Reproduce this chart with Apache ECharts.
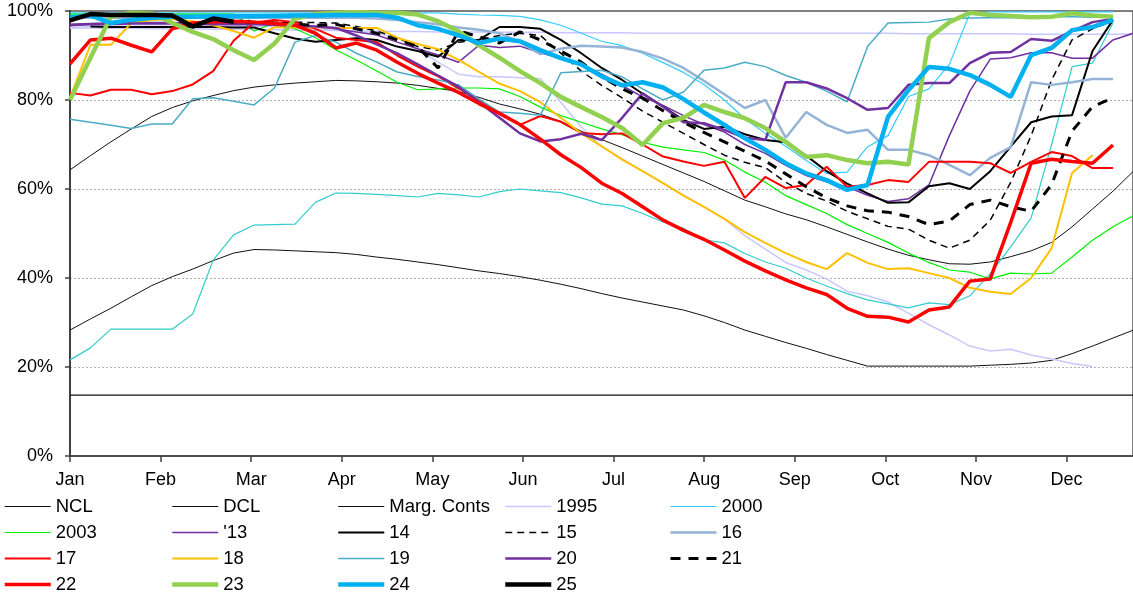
<!DOCTYPE html>
<html><head><meta charset="utf-8">
<script src="https://cdn.jsdelivr.net/npm/echarts@6/dist/echarts.min.js"></script>
<style>html,body{margin:0;padding:0;background:#fff}#c{width:1133px;height:592px}</style>
</head><body><div id="c"></div>
<script>
// ---- data (weekly points, week index 0 = 1 Jan) ----
const MONTHS = ['Jan','Feb','Mar','Apr','May','Jun','Jul','Aug','Sep','Oct','Nov','Dec'];
const WEEKS_PER_MONTH = 4.43;
const Y_TICKS = [0, 20, 40, 60, 80, 100];

const NCL = [64.3,67.5,70.6,73.5,76.3,78.3,79.8,81,82.1,82.9,83.4,83.8,84.1,84.4,84.3,84.1,83.8,83.3,82.6,81.9,80.6,79.1,78,76.8,75.2,73,71.1,69.3,67.4,65.5,63.6,61.7,59.6,57.5,56,54.4,53.1,51.5,49.8,48.1,46.5,45.1,44.1,43.2,43.1,43.6,44.8,46.1,48,51.5,55.5,59.5,64];
const DCL = [28.3,30.8,33.2,35.8,38.3,40.3,42,43.9,45.6,46.4,46.3,46.1,45.9,45.7,45.3,44.7,44.2,43.6,43,42.3,41.6,41,40.3,39.5,38.6,37.6,36.5,35.5,34.6,33.7,32.8,31.5,30,28.3,26.9,25.5,24.2,22.8,21.5,20.2,20.2,20.2,20.2,20.2,20.2,20.4,20.6,20.9,21.5,23,24.7,26.5,28.3];
const MARG = [13.7,13.7,13.7,13.7,13.7,13.7,13.7,13.7,13.7,13.7,13.7,13.7,13.7,13.7,13.7,13.7,13.7,13.7,13.7,13.7,13.7,13.7,13.7,13.7,13.7,13.7,13.7,13.7,13.7,13.7,13.7,13.7,13.7,13.7,13.7,13.7,13.7,13.7,13.7,13.7,13.7,13.7,13.7,13.7,13.7,13.7,13.7,13.7,13.7,13.7,13.7,13.7,13.7];
const LAV_FLAT = [96.2,96.2,96.1,96.1,96,96,96,95.9,95.9,95.8,95.8,95.7,95.7,95.6,95.5,95.5,95.4,95.4,95.3,95.3,95.3,95.2,95.2,95.2,95.1,95.1,95.1,95.1,95,95,95,95,95,95,95,95,95,95,95,95,95,94.9,94.9,94.9,94.9,94.9,94.9,94.8,94.8,94.8,94.8,94.8,94.8];
const Y1995 = [96.2,96.5,96.6,96.6,96.6,96.6,96.6,96.5,96.5,96.5,96.5,96.3,96,95.7,95.4,95,94,91.5,88.5,85.8,85.2,85.2,85,84.8,79.5,74,69.5,66.8,64,61.3,58.6,56,53.3,49.5,46.5,43.5,41.8,39.8,37,36,34.6,32.1,29.5,27.2,24.7,23.6,24,22.7,21.8,20.8,20.1,null,null];
const Y2000 = [99.6,99.6,99.6,99.6,99.6,99.6,99.6,99.6,99.6,99.6,99.6,99.6,99.6,99.6,99.6,99.6,99.6,99.6,99.6,99.3,99.1,99,98.8,98,96.8,95,93.2,92.2,90.5,88.4,86.2,83.5,80,75.8,72.5,69.6,66.4,63.5,63.8,69.5,72,80.8,82.5,88,99.5,99.8,99.8,99.8,99.8,99.8,99.8,99.8,null];
const TURQ = [21.6,24.3,28.5,28.5,28.5,28.5,31.9,44,49.7,51.9,52,52.1,57,59.1,59,58.8,58.5,58.2,59,58.7,58.2,59.4,60,59.6,59.2,58,56.6,56.2,54.5,52.6,51.2,48.6,47.9,45.5,43.6,42.2,40,38.2,36.5,35.1,34.2,33.3,34.4,34,36,41,47,53.5,70,87.5,88.3,97.3,null];
const Y2003 = [99.3,99.3,99.3,99.3,99.3,99.3,99.3,99.3,99.3,95.5,97.3,96,94,91.3,89,86.5,84,82.3,82.5,82.7,82.7,82.5,80.8,78.4,76.5,75,73.5,72.2,70.5,69.4,68.8,68.2,66.5,63.8,61.5,58.5,56.5,54.5,52,50,48,45.6,43.5,41.8,41.3,39.8,41.1,40.9,41.1,44.7,48.5,51.5,54];
const Y13 = [97,97.2,97.3,97.4,97.4,97.4,97.3,97.2,97.3,97.4,97.3,97,96.5,96,95.3,94.6,93,91.5,90.1,88.5,92.3,91.8,92.1,90.6,89.4,88,85.8,83.2,80.7,78.8,76.5,74.5,72.8,70,68,65.3,63,61.6,60.5,58.6,57.2,57.8,60.9,72,82,89.2,89.5,90.6,90.6,89.4,89.4,93.5,95];
const Y14 = [null,96.5,96.4,96.4,96.4,96.4,96.4,96.4,96.3,96.3,95,93.8,93.1,93.5,93.9,93.5,92,91,89.7,93.5,93.5,96.4,96.4,96,93.5,90.5,87.2,84.5,81.4,78.5,75.5,73.5,74,72.3,71,70.5,67.5,64,61.2,59,56.9,57,60.6,61.3,60,64,69.5,75,76.3,76.6,91,98,null];
const Y15 = [98.6,99,97.3,98,98.5,98.7,98.7,98.8,98.8,97.5,97.5,97.5,97.4,97.3,96.5,95.5,94,92,91.2,93,93.5,94.5,95,94.5,90.5,86.5,83.3,80.5,77.5,75,72.5,70,67.6,66,64.8,61.5,59,57.3,55,53.3,51.6,51,48.5,46.7,48.5,53,61.5,72,84.5,93.5,96,97.8,null];
const Y16 = [98.5,98.5,98.5,98.5,98.5,98.5,98.5,98.5,98.5,98.5,98.5,98.5,98.5,98.5,98.5,98.3,98,97.5,97,96.3,95.8,95,93,90.3,91.5,92.2,92,91.8,90.8,89.3,87.2,84.3,81.3,78.2,80,71.5,77.3,74.4,72.6,73.3,68.8,68.8,67.6,65.4,63.1,67,69.4,84,83.4,84,84.7,84.7,null];
const Y17 = [81.6,81,82.3,82.3,81.3,82,83.5,86.5,93.3,97.4,98,97.5,96,94,93.5,93,90,87.5,85.3,82.6,80,77,74.4,76.4,75.1,72.6,72.3,72.5,70,67.3,66.2,65.2,66.1,58,62.7,60.2,60.9,65,60.5,60.9,62,61.6,66.1,66.1,66.1,65.8,63.6,66.1,68.3,67.4,64.7,64.7,null];
const Y18 = [80.5,92.4,92.4,97.3,98,98.2,97.7,96.8,95.5,94,96.4,96.3,96.4,96.2,96.2,96.2,94,92.6,91.4,89,86.3,83.7,82,79.5,76,72.5,69.6,66.6,64,61.3,58.5,56,53.3,50.3,47.9,45.6,43.6,42,45.6,43.4,42,42.2,41.1,40,37.8,36.9,36.4,40,46.7,63.6,67.6,null,null];
const Y19 = [75.7,75,74.3,73.6,74.6,74.6,80.3,80.5,79.7,78.9,82.7,93,94.5,93,90.5,88.5,86.3,85.3,84.5,83.4,80.2,77.3,77,76.6,86.1,86.4,86.7,85.2,82.5,80,81.8,86.7,87.2,88.5,87.5,85.5,84,82,79.6,92,97.3,97.4,97.5,98.2,98.4,98.5,98.5,98.6,98.7,98.7,98.6,98.8,null];
const Y20 = [96.8,97,97.1,97.2,97.2,97.2,97.1,97,97,97,96.9,96.7,96.5,96.2,94.5,92.5,90.5,88,85.5,83,79.5,76,72.5,70.7,71.2,72.4,71,76,81.5,78.5,75,74.8,73.3,71.5,71,84,84,82.6,80.4,77.8,78.2,83.4,83.8,83.8,88.3,90.6,90.8,93.7,93.3,95.5,97.5,98.2,null];
const Y21 = [97.9,99.2,99,99,99,98.9,96.6,98.2,97.6,97.5,97.3,97,96.8,97,96,95,93.5,92,87.2,95.5,94.2,92.8,95.3,93.5,91,88.5,85.2,82.5,80.4,77.6,75,72.7,70.6,68.5,66.3,63.4,60.5,58,56.2,55.1,54.8,53.8,52,52.8,56.5,57.5,56,55,61,73,78.5,80.5,null];
const Y22 = [88.1,93.5,93.9,92.3,90.8,96,97.3,97.6,97.7,97.5,97.2,96.8,95,91.7,92.8,91.2,88.5,86,83.8,81.7,79.2,77,74.5,71.2,67.7,64.8,61.3,59,56,53,50.7,48.7,46.3,43.8,41.6,39.6,37.8,36.3,33.2,31.4,31.2,30.1,32.8,33.5,39.3,39.8,52.5,65.8,66.7,66.2,65.8,69.9,null];
const Y23 = [80,89.5,98.7,99.6,99.4,97.3,95.3,93.7,91.2,89,92.7,98.3,99.3,99.6,99.7,99.6,99.6,99.2,97.7,95.4,92.3,89.5,86.5,83.8,80.7,78.4,76.2,73.7,69.9,74.8,76,78.9,77.3,75.9,73.7,70.6,67.2,67.6,66.5,65.8,66.1,65.5,93.9,97.5,99.6,99.1,98.9,98.6,98.7,99.5,99,98.7,null];
const Y24 = [98.6,99,97.3,98,98.5,98.7,98.7,98.8,98.8,98.8,98.9,99,99,99.1,99.1,99.1,98.5,96.8,96,94.5,92.8,93.8,93.2,91.2,89.4,88,85.3,83.3,84,82.8,80.2,77.2,74.4,71.4,68.8,65.8,63.5,62,59.8,60.9,76.2,82.2,87.4,87,85.6,83.4,80.7,90.1,91.7,95.7,96.4,98,null];
const Y25 = [97.9,99.3,99.1,99.1,99.1,99,96.5,98.3,97.6];

// ---- styling ----
const FONT = "'Liberation Sans', Arial, sans-serif";
const SERIES = [
  {name:'NCL', data:NCL, color:'#111', width:1},
  {name:'DCL', data:DCL, color:'#111', width:1},
  {name:'Marg. Conts', data:MARG, color:'#111', width:1.2},
  {name:'_lav', data:LAV_FLAT, color:'#c8c8ff', width:1.5},
  {name:'1995', data:Y1995, color:'#c8c8ff', width:1.5},
  {name:'2000', data:Y2000, color:'#33ccff', width:1.2},
  {name:'_turq', data:TURQ, color:'#33cccc', width:1.2},
  {name:'2003', data:Y2003, color:'#00ee00', width:1.2},
  {name:"'13", data:Y13, color:'#7030a0', width:1.5},
  {name:'14', data:Y14, color:'#000', width:2},
  {name:'15', data:Y15, color:'#000', width:1.5, dash:[7,5]},
  {name:'16', data:Y16, color:'#95b3d7', width:2.5},
  {name:'17', data:Y17, color:'#ff0000', width:2},
  {name:'18', data:Y18, color:'#ffc000', width:2},
  {name:'19', data:Y19, color:'#4bacc6', width:1.5},
  {name:'20', data:Y20, color:'#7030a0', width:2.5},
  {name:'21', data:Y21, color:'#000', width:3, dash:[10,8]},
  {name:'22', data:Y22, color:'#ff0000', width:3.5},
  {name:'23', data:Y23, color:'#92d050', width:4.5},
  {name:'24', data:Y24, color:'#00b0f0', width:4.5},
  {name:'25', data:Y25, color:'#000', width:4.5}
];
const LEGEND_COLS = [
  ['NCL','2003','17','22'],
  ['DCL',"'13",'18','23'],
  ['Marg. Conts','14','19','24'],
  ['1995','15','20','25'],
  ['2000','16','21']
];
const LEGEND_X = [3, 170, 336, 503, 669];

const chart = echarts.init(document.getElementById('c'), null, {renderer:'canvas'});
chart.setOption({
  animation:false,
  backgroundColor:'#fff',
  textStyle:{fontFamily:FONT},
  grid:{left:70, right:0, top:11, bottom:136, show:true, borderColor:'#555', borderWidth:1.5, backgroundColor:'transparent'},
  xAxis:{
    type:'value', min:0, max:51.98, interval:WEEKS_PER_MONTH,
    axisLine:{lineStyle:{color:'#404040', width:1.5}},
    axisTick:{show:true, length:6, lineStyle:{color:'#404040', width:1.5}},
    splitLine:{show:false},
    axisLabel:{fontSize:18, color:'#000', fontFamily:FONT, margin:15, showMaxLabel:false,
      formatter:function(v){ const k=Math.round(v/WEEKS_PER_MONTH); return (Math.abs(v-k*WEEKS_PER_MONTH)<0.01 && k<12) ? MONTHS[k] : ''; }}
  },
  yAxis:{
    type:'value', min:Y_TICKS[0], max:Y_TICKS[Y_TICKS.length-1], interval:20,
    axisLine:{show:true, lineStyle:{color:'#404040', width:2}},
    axisTick:{show:true, length:5, lineStyle:{color:'#404040', width:1.5}},
    splitLine:{show:true, showMinLine:false, showMaxLine:false, lineStyle:{color:'#b0b0b0', type:[2,2], width:1}},
    axisLabel:{fontSize:18, color:'#000', fontFamily:FONT, margin:17, formatter:'{value}%'}
  },
  legend: LEGEND_COLS.map((names,k)=>({
    orient:'vertical', left:LEGEND_X[k], top:497, padding:0, height:100,
    itemWidth:46, itemHeight:14, itemGap:7, selectedMode:false,
    data:names,
    itemStyle:{opacity:0},
    lineStyle:{width:'inherit'},
    textStyle:{fontSize:18.5, lineHeight:16, color:'#000', fontFamily:FONT}
  })),
  series: SERIES.map(s=>({
    type:'line', name:s.name, symbol:'none', showSymbol:false, silent:true,
    data:s.data.map((v,i)=>[i,v]),
    connectNulls:false,
    lineStyle:{color:s.color, width:s.width, type:s.dash||'solid'},
    itemStyle:{color:s.color},
    emphasis:{disabled:true}
  }))
});
</script></body></html>
